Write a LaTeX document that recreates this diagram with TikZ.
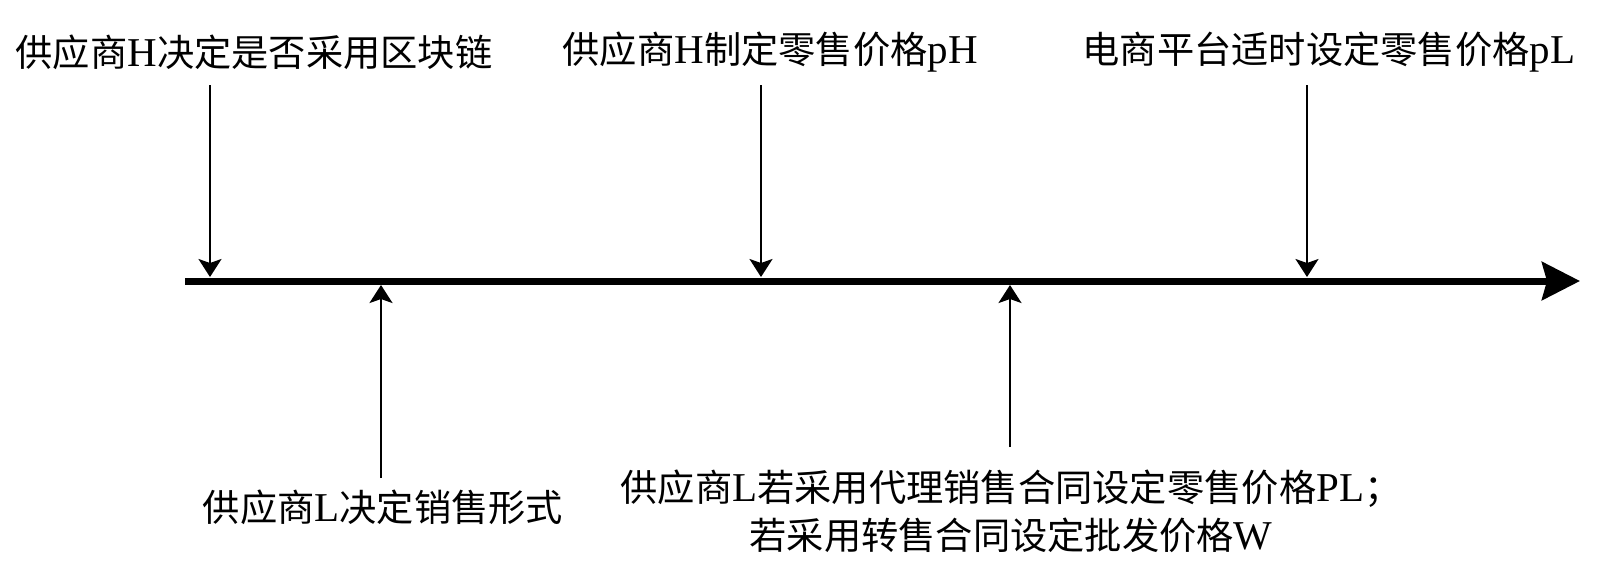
\documentclass[tikz,border=0pt]{standalone}
\usepackage{fontspec}
\setmainfont{Liberation Serif}[Scale=1.1]
\newfontfamily\cjk{Noto Sans CJK SC}
\usetikzlibrary{arrows.meta}
\begin{document}
\begin{tikzpicture}[x=0.1mm,y=-0.1mm,
  lbl/.style={inner sep=0pt,font=\fontsize{10.6pt}{13.6pt}\selectfont},
  axisline/.style={line width=0.7mm,-{Stealth[length=3.8mm,width=3.8mm,inset=0.5mm]}},
  tick/.style={line width=0.22mm,-{Stealth[length=1.8mm,width=2.3mm,inset=0.4mm]}}]
\useasboundingbox (0,0) rectangle (1600,564);
% labels
\node[lbl,anchor=west] (t1) at (15,52) {{\cjk 供应商}H{\cjk 决定是否采用区块链}};
\node[lbl,anchor=west] (t2) at (562,52) {{\cjk 供应商}H{\cjk 制定零售价格}pH};
\node[lbl,anchor=west] (t3) at (1082,52) {{\cjk 电商平台适时设定零售价格}pL};
\node[lbl] (t4) at (383,507) {{\cjk 供应商}L{\cjk 决定销售形式}};
\node[lbl,align=center] (t5) at (1011,511) {{\cjk 供应商}L{\cjk 若采用代理销售合同设定零售价格}PL{\cjk ；}\\{\cjk 若采用转售合同设定批发价格}W};
% axis
\coordinate (axL) at (185,281);
\coordinate (axR) at (1580,281);
\draw[axisline] (axL) -- (axR);
% tick arrows
\coordinate (a1s) at (210,85);  \coordinate (a1e) at (210,277);
\coordinate (a2s) at (381,478); \coordinate (a2e) at (381,285);
\coordinate (a3s) at (761,85);  \coordinate (a3e) at (761,277);
\coordinate (a4s) at (1010,447);\coordinate (a4e) at (1010,285);
\coordinate (a5s) at (1307,85); \coordinate (a5e) at (1307,277);
\draw[tick] (a1s) -- (a1e);
\draw[tick] (a2s) -- (a2e);
\draw[tick] (a3s) -- (a3e);
\draw[tick] (a4s) -- (a4e);
\draw[tick] (a5s) -- (a5e);
\end{tikzpicture}
\end{document}
